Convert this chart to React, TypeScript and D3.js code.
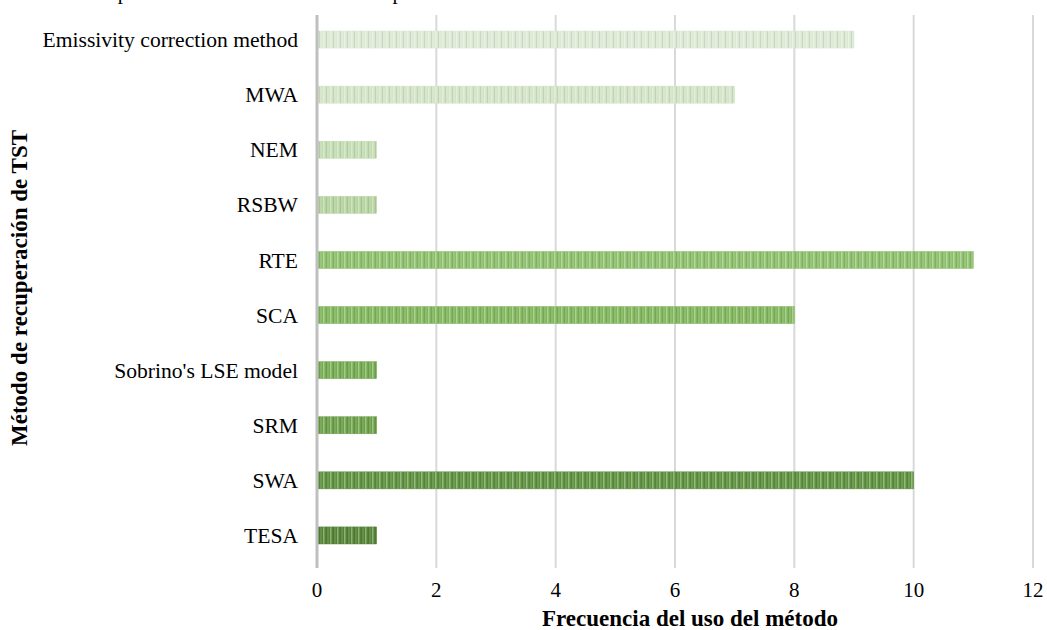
import React from "react";
import * as d3 from "d3";

const categories = [
  "Emissivity correction method",
  "MWA",
  "NEM",
  "RSBW",
  "RTE",
  "SCA",
  "Sobrino's LSE model",
  "SRM",
  "SWA",
  "TESA",
];
const values = [9, 7, 1, 1, 11, 8, 1, 1, 10, 1];
const barColors = [
  "#dbe9d2", "#d2e4c6", "#c3dcb2", "#b5d3a0", "#8cbf69",
  "#7fb55b", "#74aa50", "#6a9f47", "#5d903d", "#548235",
];
const xTicks = [0, 2, 4, 6, 8, 10, 12];
const title = "Frecuencia de aplicación de los métodos de recuperación de TST";
const xTitle = "Frecuencia del uso del método";
const yTitle = "Método de recuperación de TST";

const W = 1047, H = 630;
const left = 317, right = 1033, top = 12, bottom = 563;
const font = "Liberation Serif, Tinos, Times New Roman, DejaVu Serif, serif";

export default function App() {
  const x = d3.scaleLinear().domain([0, 12]).range([left, right]);
  const y = d3.scaleBand().domain(categories).range([top, bottom]).paddingInner(0.69).paddingOuter(0.345);
  return (
    <svg width={W} height={H} style={{ position: "absolute", left: 0, top: 0, background: "#fff" }}>
      <defs>
        {barColors.map((c, i) => {
          const light = d3.interpolateRgb(c, "#ffffff")(0.35);
          const dark = d3.interpolateRgb(c, "#000000")(0.08);
          return (
            <pattern key={i} id={`pat${i}`} patternUnits="userSpaceOnUse" width={7} height={20}>
              <rect width={7} height={20} fill={c} />
              <rect x={1} width={1.5} height={20} fill={light} />
              <rect x={4} width={1} height={20} fill={dark} />
              <rect x={5.5} width={1} height={20} fill={light} opacity={0.6} />
            </pattern>
          );
        })}
      </defs>
      <text x={-14} y={-1} fontFamily={font} fontSize={21} fill="#000">{title}</text>
      {xTicks.filter((t) => t > 0).map((t) => (
        <line key={t} x1={x(t)} x2={x(t)} y1={top + 3} y2={568} stroke="#d9d9d9" strokeWidth={2} />
      ))}
      {categories.map((c, i) => (
        <rect key={c} x={x(0)} y={y(c)!} width={x(values[i]) - x(0)} height={y.bandwidth()}
          fill={`url(#pat${i})`} stroke={barColors[i]} strokeWidth={0.5} />
      ))}
      <line x1={x(0)} x2={x(0)} y1={top + 3} y2={568} stroke="#bfbfbf" strokeWidth={3} />
      {categories.map((c) => (
        <text key={c} x={left - 19} y={y(c)! + y.bandwidth() / 2} dy="0.35em" textAnchor="end"
          fontFamily={font} fontSize={21.6} fill="#000">{c}</text>
      ))}
      {xTicks.map((t) => (
        <text key={t} x={x(t)} y={597} textAnchor="middle" fontFamily={font} fontSize={21} fill="#000">{t}</text>
      ))}
      <text x={(left + right) / 2 + 15} y={626} textAnchor="middle" fontFamily={font} fontSize={23}
        fontWeight="bold" fill="#000">{xTitle}</text>
      <text transform={`translate(27, ${288}) rotate(-90)`} textAnchor="middle"
        fontFamily={font} fontSize={23} fontWeight="bold" fill="#000">{yTitle}</text>
    </svg>
  );
}
